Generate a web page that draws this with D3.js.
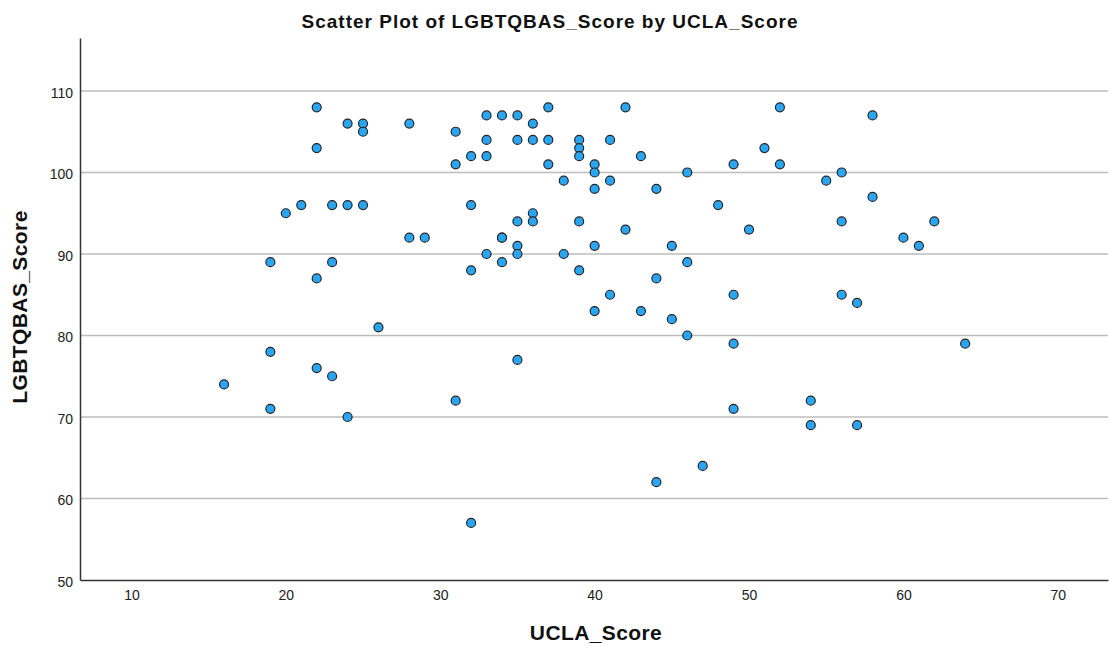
<!DOCTYPE html>
<html>
<head>
<meta charset="utf-8">
<title>Scatter Plot of LGBTQBAS_Score by UCLA_Score</title>
<script src="https://cdn.jsdelivr.net/npm/d3@7"></script>
<style>
  body { margin: 0; background: #fff; }
  svg { display: block; font-family: "Liberation Sans", Arial, sans-serif; }
</style>
</head>
<body>
<svg id="chart" width="1109" height="653"></svg>
<script>
// data
const uclaScore = [16,19,19,19,20,21,22,22,22,22,23,23,23,24,24,24,25,25,25,26,28,28,29,31,31,31,32,32,32,32,
  33,33,33,33,34,34,34,34,35,35,35,35,35,35,36,36,36,36,37,37,37,38,38,39,39,39,39,39,40,40,40,40,40,
  41,41,41,42,42,43,43,44,44,44,45,45,46,46,46,47,48,49,49,49,49,50,51,52,52,54,54,55,56,56,56,57,57,
  58,58,60,61,62,64];
const lgbtqbasScore = [74,78,89,71,95,96,108,103,87,76,96,89,75,106,96,70,106,105,96,81,106,92,92,105,101,72,102,96,88,57,
  107,104,102,90,107,92,92,89,107,104,94,91,90,77,106,104,95,94,108,104,101,99,90,104,103,102,94,88,101,100,98,91,83,
  104,99,85,108,93,102,83,98,87,62,91,82,100,89,80,64,96,101,85,79,71,93,103,108,101,72,69,99,100,94,85,84,69,
  107,97,92,91,94,79];
const xTicks = [10, 20, 30, 40, 50, 60, 70];
const yTicks = [50, 60, 70, 80, 90, 100, 110];

const svg = d3.select('#chart');
const plotLeft = 80, plotRight = 1108, plotTop = 38, plotBottom = 580;

const x = d3.scaleLinear().domain([6.67, 73.25]).range([plotLeft, plotRight]);
const y = d3.scaleLinear().domain([50, 116.5]).range([plotBottom, plotTop]);

// gridlines
svg.append('g')
  .selectAll('line')
  .data(yTicks.filter(d => d > 50))
  .enter().append('line')
  .attr('x1', plotLeft).attr('x2', plotRight)
  .attr('y1', d => y(d)).attr('y2', d => y(d))
  .attr('stroke', '#bdbdbd').attr('stroke-width', 1.4);

// axes
const xAxis = svg.append('g')
  .attr('transform', `translate(0,${plotBottom})`)
  .call(d3.axisBottom(x).tickValues(xTicks).tickSize(0).tickPadding(10));
const yAxis = svg.append('g')
  .attr('transform', `translate(${plotLeft},0)`)
  .call(d3.axisLeft(y).tickValues(yTicks).tickSize(0).tickPadding(7));

[xAxis, yAxis].forEach(a => {
  a.select('.domain').attr('stroke', '#333').attr('stroke-width', 1.5);
  a.selectAll('text').attr('font-size', 14).attr('fill', '#222')
    .attr('font-family', '"Liberation Sans", Arial, sans-serif');
});
yAxis.selectAll('text').attr('dy', '0.45em');

// points
svg.append('g')
  .selectAll('circle')
  .data(uclaScore.map((u, i) => [u, lgbtqbasScore[i]]))
  .enter().append('circle')
  .attr('cx', d => x(d[0]))
  .attr('cy', d => y(d[1]))
  .attr('r', 4.5)
  .attr('fill', '#2aa5f2')
  .attr('stroke', '#262626')
  .attr('stroke-width', 1.2);

// title and axis labels
svg.append('text')
  .attr('x', 550).attr('y', 28)
  .attr('text-anchor', 'middle')
  .attr('font-size', 19).attr('font-weight', 'bold').attr('fill', '#111')
  .attr('letter-spacing', 1)
  .text('Scatter Plot of LGBTQBAS_Score by UCLA_Score');

svg.append('text')
  .attr('x', 596).attr('y', 640)
  .attr('text-anchor', 'middle')
  .attr('font-size', 21).attr('font-weight', 'bold').attr('fill', '#111')
  .attr('letter-spacing', 0.4)
  .text('UCLA_Score');

svg.append('text')
  .attr('transform', 'translate(27,307) rotate(-90)')
  .attr('text-anchor', 'middle')
  .attr('font-size', 21).attr('font-weight', 'bold').attr('fill', '#111')
  .attr('letter-spacing', 0.4)
  .text('LGBTQBAS_Score');
</script>
</body>
</html>
